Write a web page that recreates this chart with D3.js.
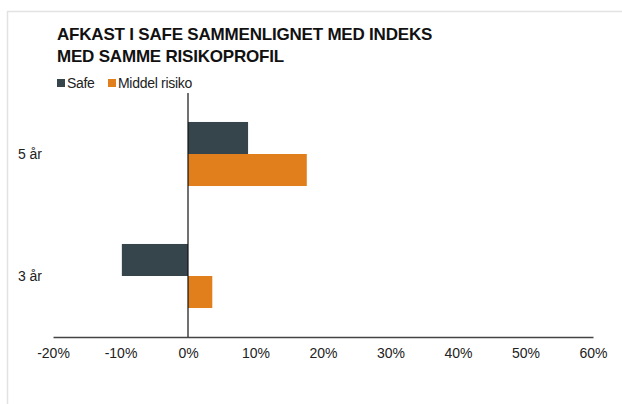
<!DOCTYPE html>
<html><head><meta charset="utf-8">
<script src="https://cdn.jsdelivr.net/npm/d3@7"></script>
<style>body{margin:0;background:#fff}svg{display:block}text{font-family:"Liberation Sans",Arial,sans-serif}</style>
</head><body>
<svg id="c" width="622" height="404"></svg>
<script>
const titleLines = ["AFKAST I SAFE SAMMENLIGNET MED INDEKS", "MED SAMME RISIKOPROFIL"];
const categories = ["5 år", "3 år"];
const seriesNames = ["Safe", "Middel risiko"];
const seriesColors = ["#36444c", "#e27f1d"];
const safeValues = [8.9, -9.8];
const middelValues = [17.6, 3.6];
const xTicks = [-20, -10, 0, 10, 20, 30, 40, 50, 60];

const svg = d3.select("#c");
// frame
svg.append("path").attr("d", "M7.5,404 V11.5 H622").attr("fill", "none").attr("stroke", "#e2e2e2").attr("stroke-width", 1.5);

const pL = 53, pR = 593, pT = 93, pB = 337;
const x = d3.scaleLinear().domain([-20, 60]).range([pL, pR]);
const y = d3.scaleBand().domain(categories).range([pT, pB]).paddingInner(0.475).paddingOuter(0.2375);
const ySub = d3.scaleBand().domain(seriesNames).range([0, y.bandwidth()]);

// title
svg.append("text").attr("x", 57).attr("y", 40).attr("font-size", 17).attr("font-weight", "bold").attr("fill", "#111")
  .attr("letter-spacing", -0.2)
  .selectAll("tspan").data(titleLines).join("tspan").attr("x", 57).attr("dy", (d, i) => i ? 22 : 0).text(d => d);

// legend
const lg = svg.append("g").attr("transform", "translate(57,79)");
const lgX = [0, 51];
seriesNames.forEach((s, i) => {
  lg.append("rect").attr("x", lgX[i]).attr("y", 0).attr("width", 8).attr("height", 8).attr("fill", seriesColors[i]);
  lg.append("text").attr("x", lgX[i] + 10).attr("y", 9).attr("font-size", 14).attr("letter-spacing", -0.3).attr("fill", "#222").text(s);
});

const data = categories.map((c, i) => ({cat: c, vals: [safeValues[i], middelValues[i]]}));
const g = svg.append("g");
data.forEach(d => {
  d.vals.forEach((v, j) => {
    g.append("rect")
      .attr("x", x(Math.min(0, v)))
      .attr("y", y(d.cat) + ySub(seriesNames[j]))
      .attr("width", Math.abs(x(v) - x(0)))
      .attr("height", ySub.bandwidth())
      .attr("fill", seriesColors[j]);
  });
});

// zero line
svg.append("line").attr("x1", x(0)).attr("x2", x(0)).attr("y1", pT).attr("y2", pB).attr("stroke", "#111").attr("stroke-width", 1.2);

// x axis
const xAxis = d3.axisBottom(x).tickValues(xTicks).tickFormat(d => d + "%").tickSize(0).tickPadding(11);
const ax = svg.append("g").attr("transform", `translate(0,${pB})`).call(xAxis);
ax.select(".domain").attr("stroke", "#444").attr("stroke-width", 1.6);
ax.selectAll("text").attr("font-size", 14).attr("fill", "#222").attr("font-family", "Liberation Sans, Arial, sans-serif");

// y labels
const yAxis = d3.axisLeft(y).tickSize(0).tickPadding(0);
const ay = svg.append("g").attr("transform", "translate(42,1)").call(yAxis);
ay.select(".domain").remove();
ay.selectAll("text").attr("font-size", 14).attr("fill", "#222").attr("font-family", "Liberation Sans, Arial, sans-serif");
</script>
</body></html>
